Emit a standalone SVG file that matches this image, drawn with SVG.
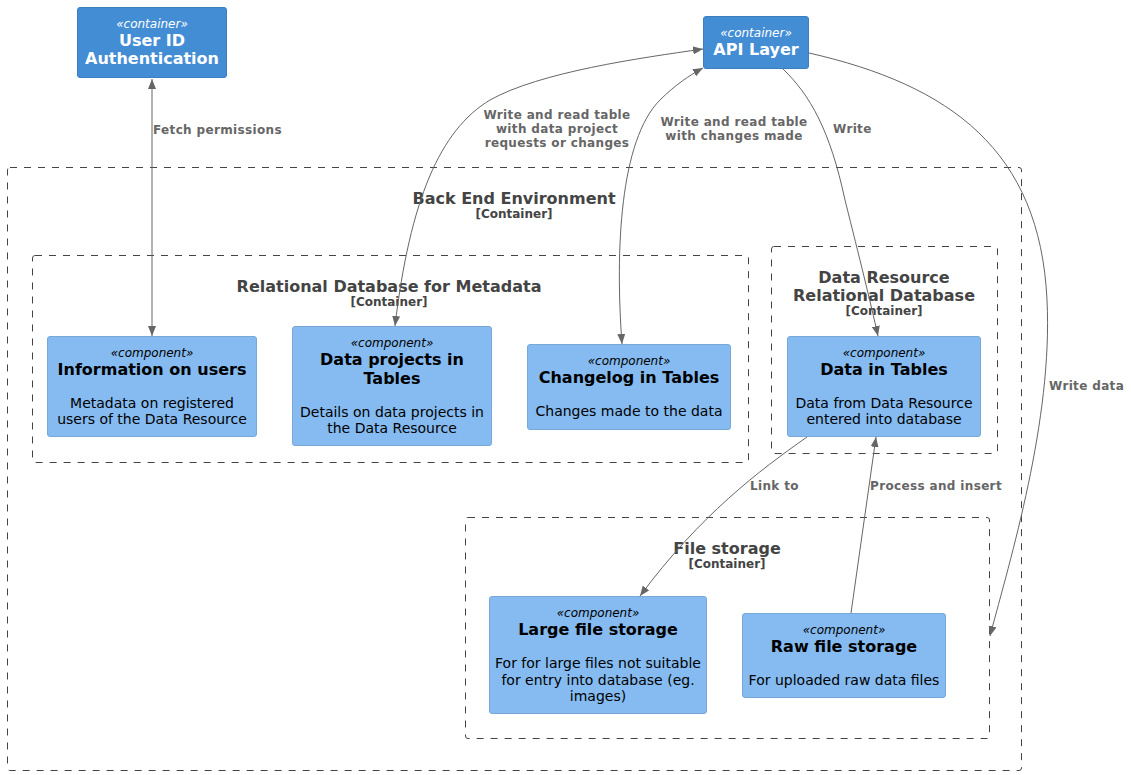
<svg xmlns="http://www.w3.org/2000/svg" width="1131" height="775" viewBox="0 0 1131 775">
  <style>
    text { font-family: "DejaVu Sans", "Liberation Sans", sans-serif; }
    .container { fill: #438DD5; stroke: #3C7FC0; stroke-width: 1; }
    .component { fill: #85BBF0; stroke: #78A8D8; stroke-width: 1; }
    .boundary { fill: none; stroke: #444444; stroke-width: 1; stroke-dasharray: 7 7; }
    .stereo-w { fill: #FFFFFF; font-size: 12px; font-style: italic; text-anchor: middle; }
    .title-w { fill: #FFFFFF; font-size: 16px; font-weight: bold; text-anchor: middle; }
    .stereo { fill: #000000; font-size: 12px; font-style: italic; text-anchor: middle; }
    .title { fill: #000000; font-size: 16px; font-weight: bold; text-anchor: middle; }
    .desc { fill: #000000; font-size: 14px; text-anchor: middle; }
    .btitle { fill: #444444; font-size: 16px; font-weight: bold; text-anchor: middle; }
    .btype { fill: #444444; font-size: 12px; font-weight: bold; text-anchor: middle; }
    .edge { fill: none; stroke: #666666; stroke-width: 1; }
    .elabel { fill: #666666; font-size: 12px; font-weight: bold; letter-spacing: 0.35px; }
    .elabel-c { fill: #666666; font-size: 12px; font-weight: bold; letter-spacing: 0.35px; text-anchor: middle; }
  </style>
  <defs>
    <marker id="arrow" viewBox="0 0 10 8" refX="10" refY="4" markerWidth="10" markerHeight="8" markerUnits="userSpaceOnUse" orient="auto-start-reverse">
      <path d="M0,0 L10,4 L0,8 Z" fill="#666666"/>
    </marker>
  </defs>

  <!-- boundaries -->
  <g id="back-end-environment">
    <rect class="boundary" x="7.5" y="167.5" width="1014" height="603" rx="2.5"/>
    <text class="btitle" x="514" y="204">Back End Environment</text>
    <text class="btype" x="514" y="218">[Container]</text>
  </g>
  <g id="relational-db-metadata">
    <rect class="boundary" x="32.5" y="255.5" width="716" height="207" rx="2.5"/>
    <text class="btitle" x="389" y="292">Relational Database for Metadata</text>
    <text class="btype" x="389" y="306">[Container]</text>
  </g>
  <g id="data-resource-db">
    <rect class="boundary" x="771.5" y="246.5" width="226" height="207" rx="2.5"/>
    <text class="btitle" x="884" y="283">Data Resource</text>
    <text class="btitle" x="884" y="301">Relational Database</text>
    <text class="btype" x="884" y="315">[Container]</text>
  </g>
  <g id="file-storage">
    <rect class="boundary" x="465.5" y="517.5" width="524" height="221" rx="2.5"/>
    <text class="btitle" x="727" y="554">File storage</text>
    <text class="btype" x="727" y="568">[Container]</text>
  </g>

  <!-- containers -->
  <g id="user-id-auth">
    <rect class="container" x="77.5" y="7.5" width="149" height="70" rx="2.5"/>
    <text class="stereo-w" x="152" y="28">«container»</text>
    <text class="title-w" x="152" y="46">User ID</text>
    <text class="title-w" x="152" y="64">Authentication</text>
  </g>
  <g id="api-layer">
    <rect class="container" x="703.5" y="16.5" width="105" height="52" rx="2.5"/>
    <text class="stereo-w" x="756" y="37">«container»</text>
    <text class="title-w" x="756" y="55">API Layer</text>
  </g>

  <!-- components -->
  <g id="info-users">
    <rect class="component" x="47.5" y="336.5" width="209" height="100" rx="2.5"/>
    <text class="stereo" x="152" y="357">«component»</text>
    <text class="title" x="152" y="375">Information on users</text>
    <text class="desc" x="152" y="408">Metadata on registered</text>
    <text class="desc" x="152" y="424">users of the Data Resource</text>
  </g>
  <g id="data-projects">
    <rect class="component" x="292.5" y="326.5" width="199" height="119" rx="2.5"/>
    <text class="stereo" x="392" y="347">«component»</text>
    <text class="title" x="392" y="365">Data projects in</text>
    <text class="title" x="392" y="384">Tables</text>
    <text class="desc" x="392" y="417">Details on data projects in</text>
    <text class="desc" x="392" y="433">the Data Resource</text>
  </g>
  <g id="changelog">
    <rect class="component" x="527.5" y="344.5" width="203" height="85" rx="2.5"/>
    <text class="stereo" x="629" y="365">«component»</text>
    <text class="title" x="629" y="383">Changelog in Tables</text>
    <text class="desc" x="629" y="416">Changes made to the data</text>
  </g>
  <g id="data-in-tables">
    <rect class="component" x="787.5" y="336.5" width="193" height="100" rx="2.5"/>
    <text class="stereo" x="884" y="357">«component»</text>
    <text class="title" x="884" y="375">Data in Tables</text>
    <text class="desc" x="884" y="408">Data from Data Resource</text>
    <text class="desc" x="884" y="424">entered into database</text>
  </g>
  <g id="large-file-storage">
    <rect class="component" x="489.5" y="596.5" width="217" height="117" rx="2.5"/>
    <text class="stereo" x="598" y="617">«component»</text>
    <text class="title" x="598" y="635">Large file storage</text>
    <text class="desc" x="598" y="668">For for large files not suitable</text>
    <text class="desc" x="598" y="685">for entry into database (eg.</text>
    <text class="desc" x="598" y="701">images)</text>
  </g>
  <g id="raw-file-storage">
    <rect class="component" x="742.5" y="613.5" width="203" height="84" rx="2.5"/>
    <text class="stereo" x="844" y="634">«component»</text>
    <text class="title" x="844" y="652">Raw file storage</text>
    <text class="desc" x="844" y="685">For uploaded raw data files</text>
  </g>

  <!-- connectors -->
  <g id="connectors">
    <path class="edge" d="M152,79 L152,336" marker-start="url(#arrow)" marker-end="url(#arrow)"/>
    <text class="elabel" x="153" y="134">Fetch permissions</text>

    <path class="edge" d="M395,326 C410,200 440,130 490,100 C540,72 640,58 703,49" marker-start="url(#arrow)" marker-end="url(#arrow)"/>
    <text class="elabel-c" x="557" y="119">Write and read table</text>
    <text class="elabel-c" x="557" y="133">with data project</text>
    <text class="elabel-c" x="557" y="147">requests or changes</text>

    <path class="edge" d="M622,344 C615,250 620,140 660,100 C675,85 690,75 703,68" marker-start="url(#arrow)" marker-end="url(#arrow)"/>
    <text class="elabel-c" x="734" y="126">Write and read table</text>
    <text class="elabel-c" x="734" y="140">with changes made</text>

    <path class="edge" d="M783,69 C810,95 830,130 845,200 C860,260 870,300 878,336" marker-end="url(#arrow)"/>
    <text class="elabel" x="833" y="133">Write</text>

    <path class="edge" d="M809,53 C950,85 1040,150 1047,300 C1053,420 1010,560 990,636" marker-end="url(#arrow)"/>
    <text class="elabel" x="1049" y="390">Write data</text>

    <path class="edge" d="M807,437 C760,470 700,515 640,596" marker-end="url(#arrow)"/>
    <text class="elabel" x="750" y="490">Link to</text>

    <path class="edge" d="M851,613 L876,437" marker-end="url(#arrow)"/>
    <text class="elabel" x="870" y="490">Process and insert</text>
  </g>
</svg>
